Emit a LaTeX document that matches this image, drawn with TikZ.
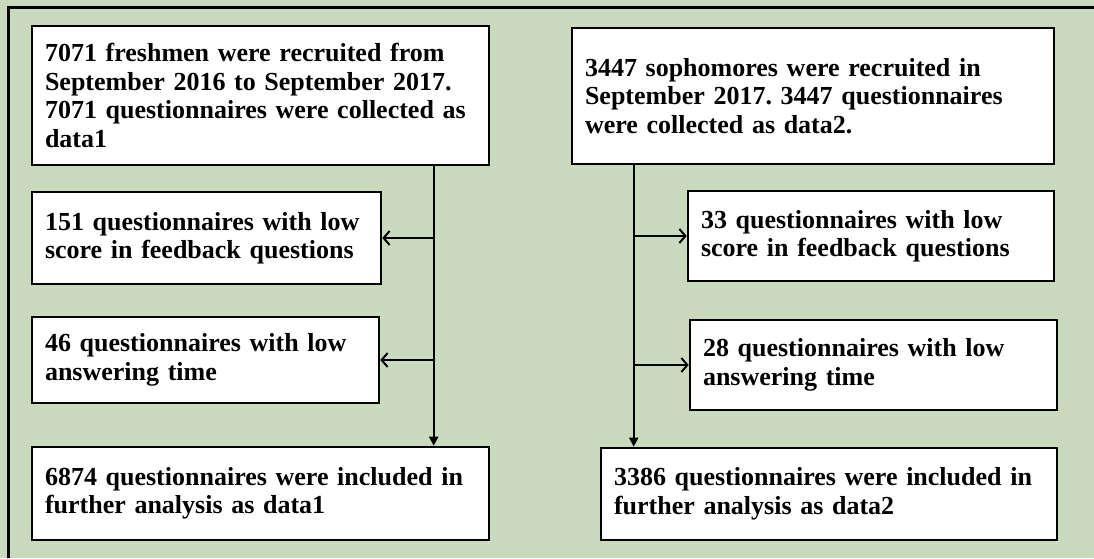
\documentclass[tikz,border=0pt]{standalone}
\usepackage{fontspec}
\setmainfont{Liberation Serif}
\usetikzlibrary{arrows.meta}

\definecolor{panelgreen}{RGB}{201,218,191}

\begin{document}
\frenchspacing
\begin{tikzpicture}[x=1pt,y=-1pt]

      \useasboundingbox (0,0) rectangle (1094,558);
      \fill[panelgreen] (0,0) rectangle (1094,558);
      \draw[line width=3pt] (8,558) -- (8,7) -- (1094,7);

      \begin{scope}[every node/.style={draw, fill=white, line width=2.6pt, inner xsep=12pt,
          align=left, font=\bfseries\fontsize{26}{28.5}\selectfont}]
        \node[minimum width=457, minimum height=139, text width=431] (1) at (260.5,95.5)
          {7071 freshmen were recruited from\\September 2016 to September 2017.\\7071 questionnaires were collected as\\data1};
        \node[minimum width=349, minimum height=92, text width=323]  (2) at (206.5,238)
          {151 questionnaires with low\\score in feedback questions};
        \node[minimum width=347, minimum height=86, text width=321]  (3) at (205.5,360)
          {46 questionnaires with low\\answering time};
        \node[minimum width=457, minimum height=93, text width=431]  (4) at (260.5,493.5)
          {6874 questionnaires were included in\\further analysis as data1};
        \node[minimum width=482, minimum height=136, text width=456] (5) at (813,96)
          {3447 sophomores were recruited in\\September 2017. 3447 questionnaires\\were collected as data2.};
        \node[minimum width=366, minimum height=90, text width=340]  (6) at (871,236)
          {33 questionnaires with low\\score in feedback questions};
        \node[minimum width=367, minimum height=90, text width=341]  (7) at (873.5,365)
          {28 questionnaires with low\\answering time};
        \node[minimum width=456, minimum height=92, text width=430] (8) at (829,494)
          {3386 questionnaires were included in\\further analysis as data2};
      \end{scope}

      \path (1.south west) ++(403,0) coordinate (s1);
      \path (5.south west) ++(63,0) coordinate (s2);

      \begin{scope}[line width=2pt]
        \draw[-{Triangle[length=9pt,width=9pt]}] (s1) -- (s1 |- 4.north);
        \draw[-{Straight Barb[length=6pt,width=14pt]}] (s1 |- 2.east) -- (2.east);
        \draw[-{Straight Barb[length=6pt,width=14pt]}] (s1 |- 3.east) -- (3.east);
        \draw[-{Triangle[length=9pt,width=9pt]}] (s2) -- (s2 |- 8.north);
        \draw[-{Straight Barb[length=6pt,width=14pt]}] (s2 |- 6.west) -- (6.west);
        \draw[-{Straight Barb[length=6pt,width=14pt]}] (s2 |- 7.west) -- (7.west);
      \end{scope}

    \end{tikzpicture}
\end{document}
